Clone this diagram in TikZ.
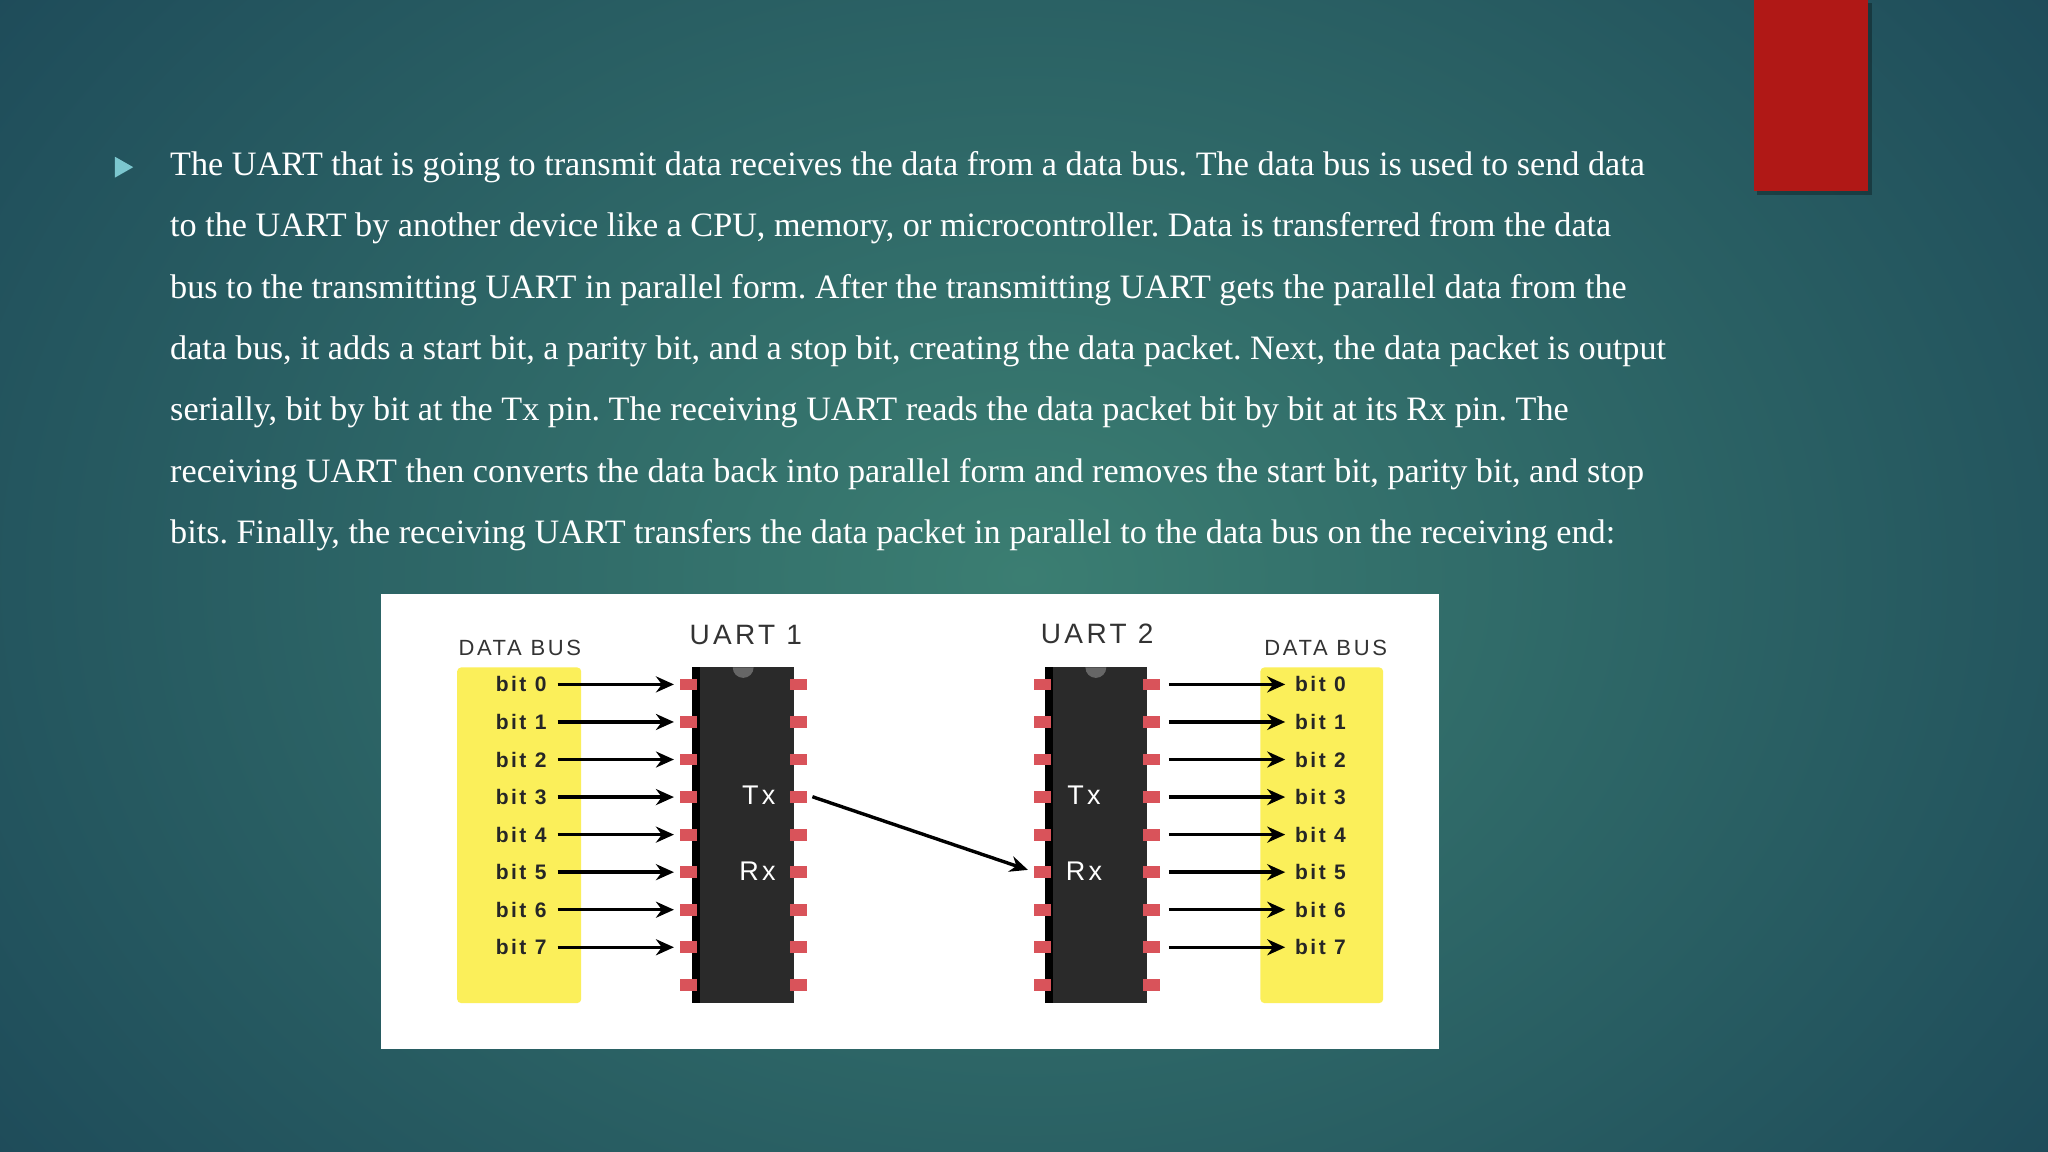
\documentclass[tikz,border=0pt]{standalone}
\usepackage{fontspec}
\setmainfont{Liberation Serif}
\newfontfamily\diag[LetterSpace=12]{Liberation Sans}
\usetikzlibrary{arrows.meta,shadings}
\definecolor{bgin}{HTML}{3B7E72}
\definecolor{bgout}{HTML}{1B4657}
\definecolor{pinred}{HTML}{D9535A}
\definecolor{chipc}{HTML}{2A2A2A}
\definecolor{busy}{HTML}{FBEF5A}
\definecolor{redbar}{HTML}{B01816}
\definecolor{tri}{HTML}{7CC7CF}
\frenchspacing
\begin{document}
\begin{tikzpicture}[x=0.6531pt,y=-0.6531pt,
  body/.style={anchor=west,text=white,font=\fontsize{17.1}{20}\selectfont,inner sep=0},
  bitlbl/.style={font=\diag\bfseries\fontsize{10.5}{12}\selectfont,text=black!85,inner sep=0},
  hdr/.style={font=\diag\fontsize{11}{13}\selectfont,text=black!80,inner sep=0},
  hdrb/.style={font=\diag\fontsize{14}{16}\selectfont,text=black!80,inner sep=0},
  pinlbl/.style={font=\diag\fontsize{13.5}{15}\selectfont,text=white,inner sep=0},
  pin/.style={fill=pinred},
  arr/.style={-{Stealth[length=9pt,width=8pt]},line width=1.7pt,black}]
\useasboundingbox (0,0) rectangle (1568,882);
\shade[inner color=bgin,outer color=bgout] (-300,-400) rectangle (1868,1282);
% red bar
\fill[black,opacity=0.3] (1345,2) rectangle (1433,149);
\fill[redbar] (1343,0) rectangle (1430,146);
% bullet
\fill[tri] (88,120) -- (102,128) -- (88,136) -- cycle;
\node[body] (l1) at (130,128) {The UART that is going to transmit data receives the data from a data bus. The data bus is used to send data};
\node[body] (l2) at (130,175) {to the UART by another device like a CPU, memory, or microcontroller. Data is transferred from the data};
\node[body] (l3) at (130,222) {bus to the transmitting UART in parallel form. After the transmitting UART gets the parallel data from the};
\node[body] (l4) at (130,269) {data bus, it adds a start bit, a parity bit, and a stop bit, creating the data packet. Next, the data packet is output};
\node[body] (l5) at (130,316) {serially, bit by bit at the Tx pin. The receiving UART reads the data packet bit by bit at its Rx pin. The};
\node[body] (l6) at (130,363) {receiving UART then converts the data back into parallel form and removes the start bit, parity bit, and stop};
\node[body] (l7) at (130,410) {bits. Finally, the receiving UART transfers the data packet in parallel to the data bus on the receiving end:};
% diagram
\fill[white] (292,455) rectangle (1102,803);
\fill[busy,rounded corners=2pt] (350,511) rectangle (445,768);
\fill[busy,rounded corners=2pt] (965,511) rectangle (1059,768);
\node[hdr] (db1) at (398,496) {DATA BUS};
\node[hdr] (db2) at (1015,496) {DATA BUS};
\node[hdrb] (u1) at (571,486) {UART 1};
\node[hdrb] (u2) at (840,485) {UART 2};
\fill[chipc] (530,511) rectangle (608,768);
\fill[black] (530,511) rectangle (536,768);
\fill[chipc] (800,511) rectangle (878,768);
\fill[black] (800,511) rectangle (806,768);
\fill[black!60] (561,511) arc[start angle=180,end angle=0,radius=8];
\fill[black!60] (831,511) arc[start angle=180,end angle=0,radius=8];
\foreach \i in {0,...,8}{
  \pgfmathsetmacro\yy{524+28.75*\i}
  \fill[pin] (521,\yy-4.5) rectangle (534,\yy+4.5);
  \fill[pin] (605,\yy-4.5) rectangle (618,\yy+4.5);
  \fill[pin] (792,\yy-4.5) rectangle (805,\yy+4.5);
  \fill[pin] (875,\yy-4.5) rectangle (888,\yy+4.5);
}
\foreach \i in {0,...,7}{
  \pgfmathsetmacro\yy{524+28.75*\i}
  \node[bitlbl] (lb\i) at (399,\yy) {bit \i};
  \coordinate (la\i) at (427,\yy);
  \coordinate (lc\i) at (516,\yy);
  \draw[arr] (la\i) -- (lc\i);
  \node[bitlbl] (rb\i) at (1011,\yy) {bit \i};
  \coordinate (ra\i) at (895,\yy);
  \coordinate (rc\i) at (984,\yy);
  \draw[arr] (ra\i) -- (rc\i);
}
\node[pinlbl] (tx1) at (581,609) {Tx};
\node[pinlbl] (rx1) at (580,667) {Rx};
\node[pinlbl] (tx2) at (830,609) {Tx};
\node[pinlbl] (rx2) at (830,667) {Rx};
\coordinate (txo) at (622,610);
\coordinate (rxi) at (787,666);
\draw[arr] (txo) -- (rxi);
\end{tikzpicture}
\end{document}
